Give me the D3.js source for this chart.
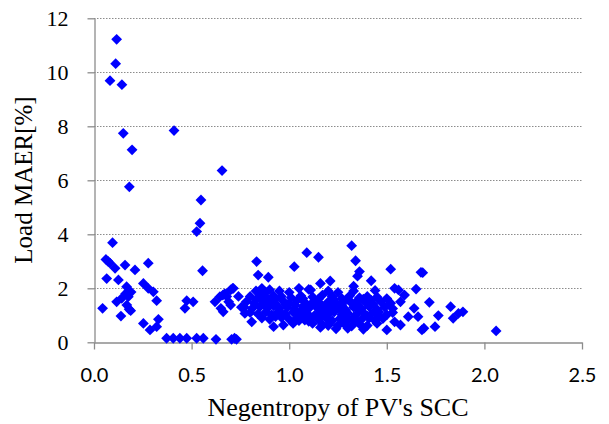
<!DOCTYPE html>
<html><head><meta charset="utf-8">
<script src="https://cdn.jsdelivr.net/npm/d3@7"></script>
<style>body{margin:0;background:#fff}svg{display:block}</style>
</head><body>
<svg id="c" width="609" height="424"></svg>
<script>
const xTicks = [0, 0.5, 1.0, 1.5, 2.0, 2.5];
const yTicks = [0, 2, 4, 6, 8, 10, 12];
const xTitle = "Negentropy of PV's SCC";
const yTitle = "Load MAER[%]";

// sparse points, low negentropy
const groupLeft = [
[0.116,11.22],[0.111,10.32],[0.082,9.69],[0.143,9.54],[0.150,7.74],[0.195,7.13],[0.410,7.84],[0.181,5.76],
[0.656,6.36],[0.548,5.27],[0.543,4.41],[0.526,4.10],[0.556,2.65],[0.095,3.69],[0.061,3.07],[0.072,3.0],[0.082,2.93],
[0.108,2.74],[0.159,2.86],[0.21,2.68],[0.278,2.93],[0.065,2.36],[0.125,2.31],[0.253,2.18],[0.278,2.0],
[0.304,1.87],[0.321,1.54],[0.167,2.06],[0.162,1.8],[0.142,1.63],[0.116,1.5],[0.176,1.69],[0.168,1.38],
[0.188,1.17],[0.044,1.26],[0.138,0.97],[0.253,0.70],[0.287,0.46],[0.33,0.85],[0.321,0.58],[0.372,0.15],
[0.406,0.15],[0.44,0.15],[0.475,0.15],[0.526,0.15],[0.56,0.15],[0.625,0.11],[0.705,0.11],[0.73,0.11],
[0.475,1.54],[0.508,1.5],[0.466,1.26],[0.19,1.86],[0.18,1.22]
];
// chain between the groups
const groupMid = [
[0.62,1.5],[0.645,1.69],[0.66,1.75],[0.67,1.8],[0.68,1.7],[0.70,1.94],[0.71,2.0],[0.69,1.5],[0.70,1.38],
[0.662,1.13],[0.65,1.26],[0.74,1.7],[0.773,1.07],[0.755,1.3],[0.808,0.76],[0.72,0.15],
[0.833,2.99],[0.841,2.49],[0.893,2.41],[0.714,2.0]
];
// dense cluster
const groupDense = [
[0.83,1.9],[0.86,2.0],[0.9,1.95],[0.95,1.9],[1.0,1.85],[1.05,2.0],[1.1,1.96],[1.2,1.9],[1.25,1.85],[1.33,1.9],[1.44,1.92],[1.54,2.0],[1.56,1.94],
[0.8,1.7],[0.85,1.75],[0.88,1.68],[0.92,1.72],[0.96,1.7],[1.01,1.65],[1.06,1.72],[1.12,1.68],[1.17,1.75],[1.22,1.7],[1.27,1.62],[1.31,1.72],[1.36,1.65],[1.4,1.7],[1.45,1.68],[1.5,1.62],[1.59,1.75],
[0.78,1.5],[0.82,1.45],[0.86,1.55],[0.9,1.5],[0.93,1.42],[0.97,1.52],[1.0,1.45],[1.04,1.55],[1.08,1.48],[1.13,1.52],[1.16,1.42],[1.2,1.5],[1.24,1.45],[1.28,1.52],[1.32,1.45],[1.35,1.55],[1.39,1.48],[1.43,1.42],[1.47,1.5],[1.52,1.45],[1.57,1.5],
[0.77,1.3],[0.81,1.25],[0.85,1.32],[0.89,1.28],[0.92,1.35],[0.95,1.25],[0.99,1.3],[1.03,1.22],[1.07,1.33],[1.1,1.25],[1.14,1.3],[1.18,1.22],[1.21,1.32],[1.25,1.27],[1.29,1.2],[1.33,1.3],[1.37,1.24],[1.41,1.32],[1.45,1.22],[1.49,1.3],[1.53,1.25],[1.64,1.26],
[0.8,1.1],[0.84,1.05],[0.88,1.12],[0.91,1.02],[0.94,1.1],[0.98,1.05],[1.02,1.12],[1.05,1.02],[1.09,1.08],[1.13,1.0],[1.16,1.1],[1.2,1.04],[1.23,1.12],[1.27,1.02],[1.3,1.08],[1.34,1.0],[1.38,1.1],[1.42,1.04],[1.46,1.12],[1.5,1.02],[1.53,1.1],
[0.86,0.9],[0.9,0.85],[0.96,0.92],[1.0,0.85],[1.04,0.9],[1.08,0.82],[1.11,0.92],[1.15,0.85],[1.19,0.9],[1.22,0.8],[1.26,0.88],[1.3,0.82],[1.33,0.92],[1.37,0.84],[1.41,0.9],[1.44,0.8],[1.48,0.88],[1.61,0.95],[1.66,0.95],
[0.92,0.58],[0.97,0.64],[1.02,0.7],[1.12,0.7],[1.17,0.65],[1.21,0.72],[1.25,0.62],[1.28,0.7],[1.32,0.6],[1.36,0.68],[1.4,0.62],[1.45,0.7],[1.54,0.76],[1.57,0.64],[1.16,0.55],[1.24,0.5],[1.3,0.52],[1.38,0.48],[1.5,0.46],
[0.88,1.85],[0.93,1.6],[0.98,1.4],[1.03,1.38],[1.07,1.62],[1.11,1.4],[1.15,1.6],[1.19,1.38],[1.23,1.58],[1.27,1.38],[1.3,1.6],[1.35,1.4],[1.38,1.6],[1.42,1.55],[0.87,1.4],[0.83,1.58],
[0.95,1.15],[1.06,1.15],[1.18,1.15],[1.28,1.15],[1.36,1.18],[1.44,1.15],[0.93,0.95],[1.06,0.95],[1.17,0.97],[1.29,0.95],[1.4,0.97],[1.1,0.78],[1.2,0.62],[1.34,0.78],[1.46,0.95],[1.05,0.8],
[1.32,3.58],[1.09,3.32],[1.15,3.15],[1.34,3.02],[1.026,2.80],[1.36,2.62],[1.35,2.45],[1.52,2.71],[1.42,2.28],[1.21,2.27],[1.16,2.18],[1.11,1.94],[1.33,2.08]
];
// sparse points, high negentropy
const groupRight = [
[1.684,2.58],[1.675,2.59],[1.65,1.97],[1.59,1.75],[1.718,1.48],[1.764,0.99],[1.827,1.32],[1.89,1.13],[1.867,1.07],
[1.84,0.89],[1.747,0.58],[1.69,0.52],[1.68,0.46],[2.06,0.42]
];

const svg = d3.select("#c");
const x = d3.scaleLinear().domain([0, 2.5]).range([94, 582]);
const y = d3.scaleLinear().domain([0, 12]).range([342.3, 18.3]);
const axisColor = "#8c8c8c";

// grid
svg.append("g").selectAll("line").data(yTicks.filter(d => d > 0)).join("line")
  .attr("x1", x(0)).attr("x2", x(2.5))
  .attr("y1", d => Math.round(y(d)) + 0.5).attr("y2", d => Math.round(y(d)) + 0.5)
  .attr("stroke", "#8c8c8c").attr("stroke-width", 1).attr("stroke-dasharray", "1.5,1.5");

// axes
const gx = svg.append("g").attr("transform", `translate(0,${Math.round(y(0)) + 0.5})`)
  .call(d3.axisBottom(x).tickValues(xTicks).tickFormat(d3.format(".1f")).tickSize(7).tickSizeOuter(0));
const gy = svg.append("g").attr("transform", `translate(${Math.round(x(0)) + 0.5},0)`)
  .call(d3.axisLeft(y).tickValues(yTicks).tickFormat(d3.format("d")).tickSize(7).tickSizeOuter(0));
[gx, gy].forEach(g => {
  g.select(".domain").attr("stroke", axisColor).attr("stroke-width", 1.3);
  g.selectAll(".tick line").attr("stroke", axisColor).attr("stroke-width", 1.3);
});
gx.selectAll(".tick text").attr("font-family", "Lato, 'Open Sans', sans-serif").attr("font-size", 20)
  .attr("fill", "#000").attr("dy", null).attr("y", 40 - 0.5);
gy.selectAll(".tick text").attr("font-family", "'Liberation Serif', 'Times New Roman', serif").attr("font-size", 22)
  .attr("fill", "#000").attr("x", -26).attr("dy", "0.34em");

// points
const allPts = groupLeft.concat(groupMid, groupDense, groupRight);
const diamond = "M0,-5.4L5.4,0L0,5.4L-5.4,0Z";
svg.append("g").selectAll("path").data(allPts).join("path")
  .attr("d", diamond)
  .attr("transform", d => `translate(${x(d[0])},${y(d[1])})`)
  .attr("fill", "#0000ff");

// titles
svg.append("text").attr("x", 338).attr("y", 416).attr("text-anchor", "middle")
  .attr("font-family", "'Liberation Serif', 'Times New Roman', serif").attr("font-size", 26).text(xTitle);
svg.append("text").attr("transform", "translate(32,180) rotate(-90)").attr("text-anchor", "middle")
  .attr("font-family", "'Liberation Serif', 'Times New Roman', serif").attr("font-size", 25).text(yTitle);
</script>
</body></html>
